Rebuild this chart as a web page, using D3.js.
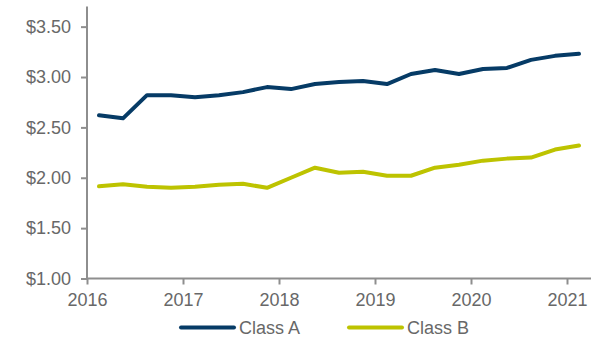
<!DOCTYPE html>
<html>
<head>
<meta charset="utf-8">
<script src="https://cdn.jsdelivr.net/npm/d3@7"></script>
<style>
  body { margin: 0; background: #fff; }
  svg text { font-family: "Liberation Sans", Arial, sans-serif; }
</style>
</head>
<body>
<div class="chart"></div>
<script>
// quarterly points, Q1 2016 .. Q1 2021
var quarters = d3.range(21).map(function(i) { return 2016 + (i + 0.5) / 4; });
var classA = [2.62, 2.59, 2.82, 2.82, 2.80, 2.82, 2.85, 2.90, 2.88, 2.93, 2.95,
              2.96, 2.93, 3.03, 3.07, 3.03, 3.08, 3.09, 3.17, 3.21, 3.23];
var classB = [1.915, 1.935, 1.91, 1.90, 1.91, 1.93, 1.94, 1.90, 2.00, 2.10, 2.05,
              2.06, 2.02, 2.02, 2.10, 2.13, 2.17, 2.19, 2.20, 2.28, 2.32];
var yearTicks = [2016, 2017, 2018, 2019, 2020, 2021];
var priceTicks = [1.0, 1.5, 2.0, 2.5, 3.0, 3.5];
var seriesNames = ["Class A", "Class B"];
var seriesColors = ["#063b66", "#bdc300"];

var width = 615, height = 338;
var axisColor = "#8e8e8e", textColor = "#686868";

var svg = d3.select(".chart").append("svg")
    .attr("width", width)
    .attr("height", height);

var x = d3.scaleLinear().domain([2016, 2021.25]).range([87, 591]);
var y = d3.scaleLinear().domain([1, 3.7]).range([278.5, 6.5]);

//////// axes
var xAxis = svg.append("g")
    .attr("transform", "translate(0," + y(1) + ")")
    .call(d3.axisBottom(x).tickValues(yearTicks).tickFormat(d3.format("d"))
        .tickSize(6).tickPadding(9));

var yAxis = svg.append("g")
    .attr("transform", "translate(" + x(2016) + ",0)")
    .call(d3.axisLeft(y).tickValues(priceTicks).tickFormat(d3.format("$.2f"))
        .tickSize(6).tickPadding(10));

[xAxis, yAxis].forEach(function(g) {
    g.select(".domain").attr("stroke", axisColor).attr("stroke-width", 2);
    g.selectAll(".tick line").attr("stroke", axisColor).attr("stroke-width", 2);
    g.selectAll(".tick text")
        .attr("fill", textColor)
        .style("font-size", "18px")
        .style("font-family", "Liberation Sans, Arial, sans-serif");
});
// remove outer tick ends of the domain path
xAxis.select(".domain").attr("d", "M" + x(2016) + ",0H" + x(2021.25));
yAxis.select(".domain").attr("d", "M0," + y(1) + "V" + y(3.7));

//////// lines
var line = d3.line()
    .x(function(d, i) { return x(quarters[i]); })
    .y(function(d) { return y(d); });

[classA, classB].forEach(function(values, k) {
    svg.append("path")
        .attr("d", line(values))
        .attr("fill", "none")
        .attr("stroke", seriesColors[k])
        .attr("stroke-width", 4)
        .attr("stroke-linejoin", "round")
        .attr("stroke-linecap", "round");
});

//////// legend
var legendX = [181, 349];
var legend = svg.selectAll(".legend")
    .data(seriesNames)
    .enter().append("g")
    .attr("transform", function(d, i) { return "translate(" + legendX[i] + ",327.5)"; });

legend.append("line")
    .attr("x1", 0).attr("x2", 53)
    .attr("stroke", function(d, i) { return seriesColors[i]; })
    .attr("stroke-width", 4)
    .attr("stroke-linecap", "round");

legend.append("text")
    .attr("x", 58)
    .attr("dy", "0.35em")
    .attr("fill", textColor)
    .style("font-size", "18px")
    .text(function(d) { return d; });
</script>
</body>
</html>
